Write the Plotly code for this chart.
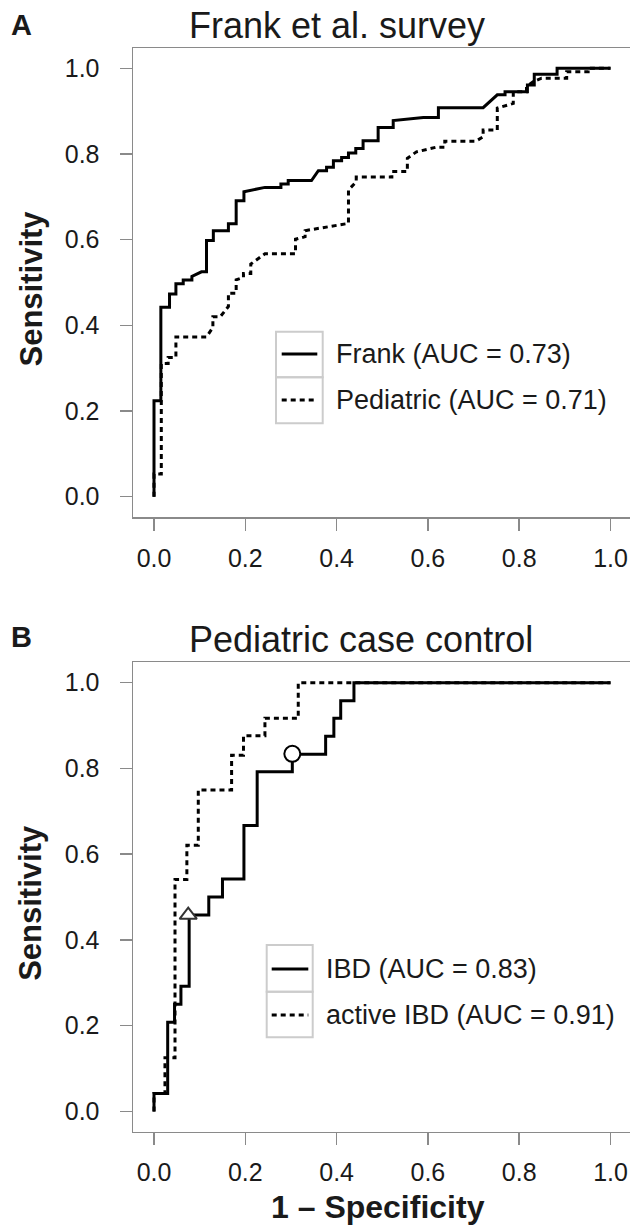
import plotly.graph_objects as go

# ---------------- data ----------------
frank_fpr = [0, 0, 0.015, 0.015, 0.034, 0.034, 0.048, 0.048, 0.064, 0.064, 0.083, 0.083, 0.104, 0.115, 0.115,
             0.130, 0.130, 0.163, 0.163, 0.180, 0.180, 0.197, 0.197, 0.243, 0.278, 0.278, 0.294, 0.294, 0.345,
             0.360, 0.378, 0.378, 0.393, 0.393, 0.411, 0.411, 0.426, 0.426, 0.442, 0.442, 0.458, 0.458, 0.491,
             0.491, 0.524, 0.524, 0.590, 0.623, 0.623, 0.721, 0.752, 0.769, 0.769, 0.818, 0.818, 0.833, 0.833,
             0.883, 0.883, 1.0]
frank_tpr = [0, 0.224, 0.224, 0.442, 0.442, 0.473, 0.473, 0.497, 0.497, 0.506, 0.506, 0.514, 0.525, 0.525, 0.598,
             0.598, 0.621, 0.621, 0.637, 0.637, 0.691, 0.691, 0.712, 0.722, 0.722, 0.730, 0.730, 0.738, 0.738,
             0.761, 0.761, 0.769, 0.769, 0.784, 0.784, 0.792, 0.792, 0.802, 0.802, 0.813, 0.813, 0.831, 0.831,
             0.862, 0.862, 0.878, 0.885, 0.885, 0.908, 0.908, 0.938, 0.938, 0.945, 0.945, 0.961, 0.961, 0.986,
             0.986, 1.0, 1.0]

ped_fpr = [0, 0, 0.016, 0.016, 0.031, 0.031, 0.048, 0.048, 0.115, 0.129, 0.129, 0.145, 0.163, 0.163, 0.180,
           0.180, 0.196, 0.196, 0.212, 0.212, 0.243, 0.310, 0.310, 0.331, 0.331, 0.426, 0.426, 0.443, 0.443,
           0.521, 0.521, 0.555, 0.555, 0.575, 0.619, 0.637, 0.637, 0.705, 0.721, 0.721, 0.752, 0.752, 0.787,
           0.787, 0.816, 0.816, 0.831, 0.849, 0.904, 0.904, 0.951, 0.951, 1.0]
ped_tpr = [0, 0.053, 0.053, 0.311, 0.311, 0.325, 0.325, 0.373, 0.373, 0.395, 0.420, 0.420, 0.444, 0.475, 0.475,
           0.506, 0.512, 0.521, 0.521, 0.543, 0.567, 0.567, 0.601, 0.607, 0.621, 0.638, 0.716, 0.735, 0.746,
           0.746, 0.759, 0.759, 0.790, 0.805, 0.816, 0.816, 0.830, 0.830, 0.840, 0.856, 0.856, 0.907, 0.918,
           0.945, 0.945, 0.957, 0.969, 0.977, 0.977, 0.992, 0.992, 1.0, 1.0]

ibd_fpr = [0, 0, 0.030, 0.030, 0.045, 0.045, 0.059, 0.059, 0.077, 0.077, 0.120, 0.120, 0.150, 0.150, 0.197,
           0.197, 0.226, 0.226, 0.303, 0.303, 0.376, 0.376, 0.394, 0.394, 0.409, 0.409, 0.438, 0.438, 1.0]
ibd_tpr = [0, 0.042, 0.042, 0.208, 0.208, 0.250, 0.250, 0.292, 0.292, 0.458, 0.458, 0.500, 0.500, 0.542, 0.542,
           0.667, 0.667, 0.792, 0.792, 0.833, 0.833, 0.875, 0.875, 0.917, 0.917, 0.958, 0.958, 1.0, 1.0]

act_fpr = [0, 0, 0.024, 0.024, 0.046, 0.046, 0.072, 0.072, 0.097, 0.097, 0.170, 0.170, 0.196, 0.196, 0.243,
           0.243, 0.316, 0.316, 1.0]
act_tpr = [0, 0.042, 0.042, 0.125, 0.125, 0.541, 0.541, 0.621, 0.621, 0.750, 0.750, 0.831, 0.831, 0.876, 0.876,
           0.917, 0.917, 1.0, 1.0]

tri_pt = (0.075, 0.458)
circ_pt = (0.303, 0.834)

tick_vals = [0, 0.2, 0.4, 0.6, 0.8, 1.0]
tick_text = ["0.0", "0.2", "0.4", "0.6", "0.8", "1.0"]

legend_a = ["Frank (AUC = 0.73)", "Pediatric (AUC = 0.71)"]
legend_b = ["IBD (AUC = 0.83)", "active IBD (AUC = 0.91)"]
titles = ["Frank et al. survey", "Pediatric case control"]

# ---------------- layout helpers ----------------
W, H = 630, 1230
FONT = "Liberation Sans, Arial, Helvetica, sans-serif"
GRAY = "#8a8a8a"
LEG_GRAY = "#cccccc"
TXT = "#1a1a1a"


def px(x):
    """page x pixel -> paper fraction"""
    return x / W


def py(y):
    """page y pixel -> paper fraction"""
    return 1 - y / H


fig = go.Figure()

DASH = "5px,4px"
fig.add_trace(go.Scatter(x=frank_fpr, y=frank_tpr, mode="lines", line=dict(color="black", width=3),
                         xaxis="x", yaxis="y", showlegend=False, hoverinfo="skip"))
fig.add_trace(go.Scatter(x=ped_fpr, y=ped_tpr, mode="lines", line=dict(color="black", width=3, dash=DASH),
                         xaxis="x", yaxis="y", showlegend=False, hoverinfo="skip"))
fig.add_trace(go.Scatter(x=act_fpr, y=act_tpr, mode="lines", line=dict(color="black", width=3, dash=DASH),
                         xaxis="x2", yaxis="y2", showlegend=False, hoverinfo="skip"))
fig.add_trace(go.Scatter(x=ibd_fpr, y=ibd_tpr, mode="lines", line=dict(color="black", width=3),
                         xaxis="x2", yaxis="y2", showlegend=False, hoverinfo="skip"))
fig.add_trace(go.Scatter(x=[tri_pt[0]], y=[tri_pt[1]], mode="markers",
                         marker=dict(symbol="triangle-up", size=15, color="white",
                                     line=dict(color="#333333", width=2)),
                         xaxis="x2", yaxis="y2", showlegend=False, hoverinfo="skip"))
fig.add_trace(go.Scatter(x=[circ_pt[0]], y=[circ_pt[1]], mode="markers",
                         marker=dict(symbol="circle", size=16, color="white", line=dict(color="black", width=2)),
                         xaxis="x2", yaxis="y2", showlegend=False, hoverinfo="skip"))

x_left = 133
xdom = [px(x_left), 1]
x0px, x1px = 154, 610.5
xscale = x1px - x0px
xrange = [-(x0px - x_left) / xscale, (W - x0px) / xscale]

# panel A
a_top, a_bot, a_y1, a_y0 = 48, 517, 68.3, 496.7
a_sc = a_y0 - a_y1
a_range = [-(a_bot - a_y0) / a_sc, 1 + (a_y1 - a_top) / a_sc]
# panel B
b_top, b_bot, b_y1, b_y0 = 662, 1131.7, 682.7, 1111.4
b_sc = b_y0 - b_y1
b_range = [-(b_bot - b_y0) / b_sc, 1 + (b_y1 - b_top) / b_sc]

tickfont = dict(family=FONT, size=25, color=TXT)
axis_common = dict(showgrid=False, zeroline=False, showline=True, linecolor=GRAY, linewidth=1.5,
                   ticks="outside", ticklen=12, tickwidth=1.5, tickcolor=GRAY,
                   tickvals=tick_vals, ticktext=tick_text, tickfont=tickfont, fixedrange=True)

fig.update_layout(
    width=W, height=H, margin=dict(l=0, r=0, t=0, b=0),
    paper_bgcolor="white", plot_bgcolor="white", showlegend=False,
    xaxis=dict(domain=xdom, range=xrange, anchor="y", mirror=True, ticklabelstandoff=6, **axis_common),
    yaxis=dict(domain=[py(a_bot), py(a_top)], range=a_range, anchor="x", ticklabelstandoff=15, **axis_common),
    xaxis2=dict(domain=xdom, range=xrange, anchor="y2", mirror=True, ticklabelstandoff=6, **axis_common),
    yaxis2=dict(domain=[py(b_bot), py(b_top)], range=b_range, anchor="x2", ticklabelstandoff=15, **axis_common),
)

shapes = []
annotations = []


def legend(box_l, box_r, box_t, box_mid, box_b, line_l, line_r, rows_y, text_x, labels):
    shapes.append(dict(type="rect", xref="paper", yref="paper", x0=px(box_l), x1=px(box_r),
                       y0=py(box_mid), y1=py(box_t), line=dict(color=LEG_GRAY, width=2)))
    shapes.append(dict(type="rect", xref="paper", yref="paper", x0=px(box_l), x1=px(box_r),
                       y0=py(box_b), y1=py(box_mid), line=dict(color=LEG_GRAY, width=2)))
    for i, (ry, lab) in enumerate(zip(rows_y, labels)):
        shapes.append(dict(type="line", xref="paper", yref="paper", x0=px(line_l), x1=px(line_r),
                           y0=py(ry), y1=py(ry),
                           line=dict(color="black", width=3, dash=("solid" if i == 0 else DASH))))
        annotations.append(dict(xref="paper", yref="paper", x=px(text_x), y=py(ry), text=lab,
                                showarrow=False, xanchor="left", yanchor="middle",
                                font=dict(family=FONT, size=27, color=TXT)))


legend(276, 322.7, 331.7, 377.3, 423.3, 281.7, 317.3, [354, 400], 334, legend_a)
legend(266.7, 312.7, 945, 991.7, 1037.3, 271.7, 308.3, [969, 1015], 324, legend_b)

# panel letters and titles
for letter, y in (("A", 25), ("B", 637)):
    annotations.append(dict(xref="paper", yref="paper", x=px(21), y=py(y), text="<b>%s</b>" % letter,
                            showarrow=False, xanchor="center", yanchor="middle",
                            font=dict(family=FONT, size=29, color=TXT)))
for title, y in zip(titles, (26, 639)):
    annotations.append(dict(xref="paper", yref="paper", x=px(187), y=py(y), text=title,
                            showarrow=False, xanchor="left", yanchor="middle",
                            font=dict(family=FONT, size=36, color=TXT)))
# axis titles
for y in ((a_top + a_bot) / 2 + 6, (b_top + b_bot) / 2 + 6):
    annotations.append(dict(xref="paper", yref="paper", x=px(31), y=py(y), text="<b>Sensitivity</b>",
                            showarrow=False, textangle=-90, xanchor="center", yanchor="middle",
                            font=dict(family=FONT, size=31, color=TXT)))
annotations.append(dict(xref="paper", yref="paper", x=px(378), y=py(1207), text="<b>1 \u2013 Specificity</b>",
                        showarrow=False, xanchor="center", yanchor="middle",
                        font=dict(family=FONT, size=32, color=TXT)))

fig.update_layout(shapes=shapes, annotations=annotations)
fig.write_html("out.html", config={"displayModeBar": False, "staticPlot": True},
               post_script="document.body.style.margin='0';document.body.style.overflow='hidden';")
